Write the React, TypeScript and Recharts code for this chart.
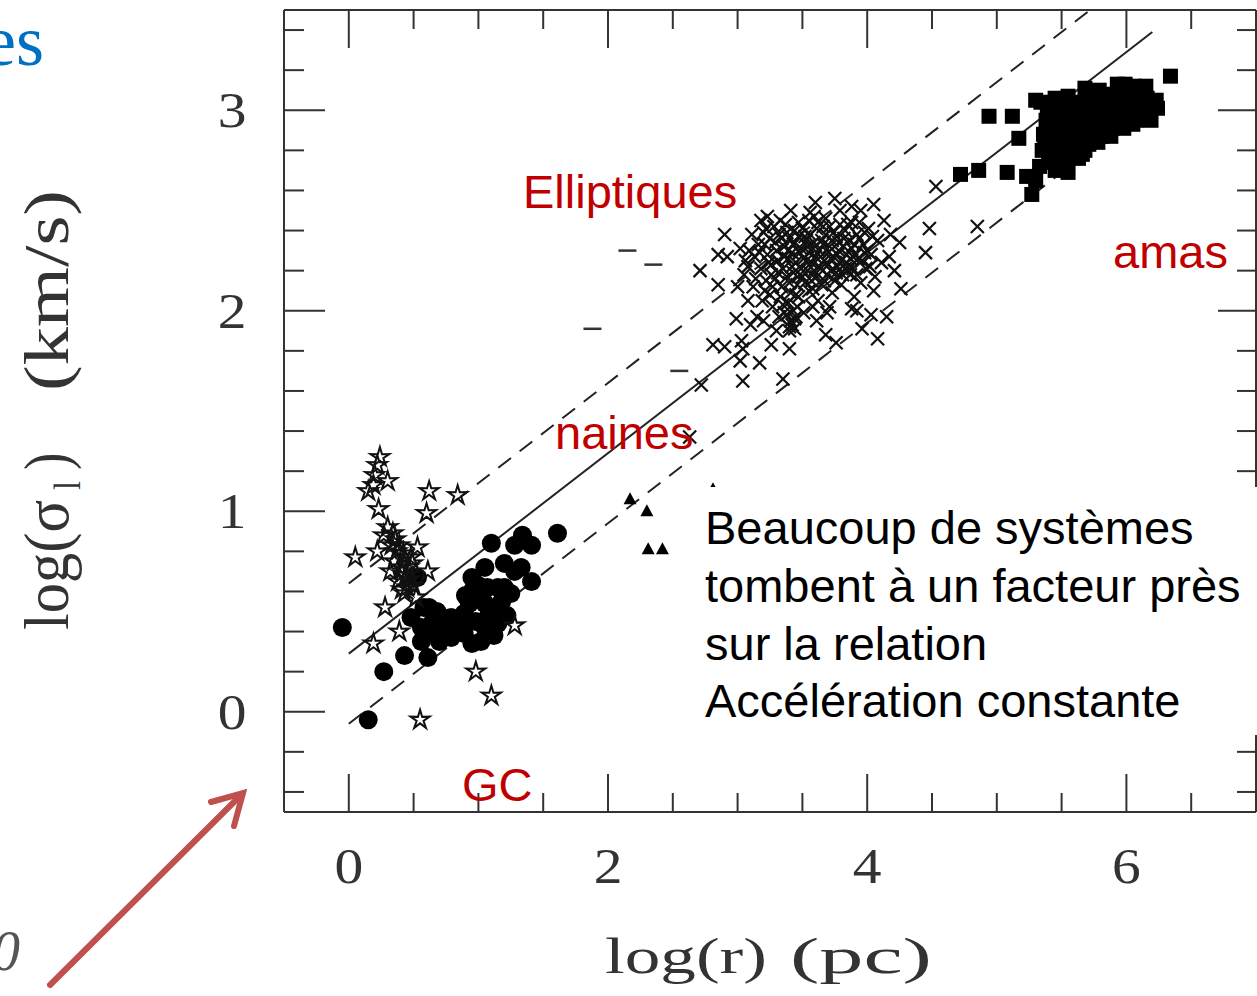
import React from 'react';
import { ScatterChart, Scatter, XAxis, YAxis } from 'recharts';

// ---------- axis ticks ----------
const xTicks = [0, 0.5, 1, 1.5, 2, 2.5, 3, 3.5, 4, 4.5, 5, 5.5, 6, 6.5];
const xLabels = [0, 2, 4, 6];
const yTicks = [-0.4, -0.2, 0, 0.2, 0.4, 0.6, 0.8, 1, 1.2, 1.4, 1.6, 1.8, 2, 2.2, 2.4, 2.6, 2.8, 3, 3.2, 3.4];
const yLabels = [0, 1, 2, 3];

// ---------- data (log r [pc], log sigma [km/s]) ----------
const globularStars: number[][] = [
  [0.24, 1.27], [0.22, 1.23], [0.19, 1.13], [0.30, 1.15], [0.15, 1.10], [0.23, 1.01], [0.62, 1.10],
  [0.60, 0.99], [0.84, 1.08], [0.30, 0.92], [0.34, 0.89], [0.22, 0.80], [0.05, 0.77], [0.39, 0.83],
  [0.53, 0.82], [0.43, 0.77], [0.32, 0.70], [0.41, 0.69], [0.49, 0.74], [0.61, 0.70], [0.45, 0.62],
  [0.43, 0.59], [0.52, 0.57], [0.28, 0.52], [0.39, 0.40], [0.19, 0.34], [1.28, 0.43], [0.98, 0.20],
  [1.10, 0.08], [0.55, -0.04], [0.36, 0.86], [0.46, 0.72], [0.38, 0.65], [0.50, 0.63], [0.42, 0.79],
  [0.35, 0.75], [0.40, 0.72], [0.44, 0.68], [0.37, 0.80], [0.47, 0.66], [0.33, 0.83], [0.41, 0.61],
  [0.48, 0.77], [0.27, 0.88], [0.20, 1.18],
];

const dwarfCircles: number[][] = [
  [-0.05, 0.42], [0.15, -0.04], [0.27, 0.20], [0.43, 0.28], [0.61, 0.27], [0.53, 0.67], [1.10, 0.84],
  [1.61, 0.89], [1.34, 0.88], [1.41, 0.83], [1.28, 0.83], [1.05, 0.72], [1.20, 0.74], [1.33, 0.72],
  [1.41, 0.65], [0.95, 0.67], [0.95, 0.60], [1.20, 0.62], [1.25, 0.59], [1.18, 0.55], [1.05, 0.54],
  [0.93, 0.54], [0.58, 0.52], [0.68, 0.50], [0.79, 0.47], [0.89, 0.49], [0.56, 0.42], [0.64, 0.40],
  [0.72, 0.39], [0.79, 0.37], [0.56, 0.35], [0.89, 0.39], [0.95, 0.34], [1.02, 0.35], [1.05, 0.42],
  [1.15, 0.44], [1.22, 0.48], [1.12, 0.50], [0.99, 0.57], [1.07, 0.62], [0.72, 0.47],
  [0.65, 0.45], [0.75, 0.43], [0.85, 0.45], [0.98, 0.45], [1.08, 0.48], [1.15, 0.62], [1.00, 0.63],
  [0.90, 0.58], [0.62, 0.52], [0.70, 0.35], [1.12, 0.38], [1.28, 0.70], [0.48, 0.47],
];

const dashMarks: number[][] = [[2.15, 2.30], [2.35, 2.23], [1.88, 1.91], [2.55, 1.70]];

const triangleMarks: number[][] = [[2.17, 1.06], [2.30, 1.00], [2.31, 0.81], [2.42, 0.81], [2.81, 1.11]];

const ellipticalCrosses: number[][] = [
  [2.90, 2.38], [2.85, 2.28], [2.92, 2.27], [2.71, 2.20], [2.85, 2.13], [2.99, 1.96], [2.81, 1.83],
  [2.90, 1.82], [3.03, 1.85], [3.04, 1.81], [3.17, 1.74], [3.26, 1.83], [3.04, 1.65], [3.35, 1.66],
  [3.40, 1.81], [3.68, 1.88], [3.76, 1.84], [4.08, 1.86], [3.96, 1.91], [4.15, 1.97], [4.03, 1.98],
  [4.26, 2.11], [4.25, 2.34], [4.45, 2.29], [4.48, 2.41], [4.85, 2.42], [4.53, 2.62], [3.88, 2.52],
  [4.05, 2.53], [3.59, 2.47], [4.17, 2.27], [3.42, 1.93], [3.71, 2.02], [3.88, 2.01], [3.61, 1.95],
  [3.02, 1.75], [2.72, 1.63], [2.63, 1.37], [3.40, 1.90], [3.44, 1.96], [3.38, 1.98],
  [3.02, 2.31], [3.08, 2.22], [3.11, 2.38], [3.14, 2.16], [3.17, 2.29], [3.19, 2.05], [3.22, 2.41],
  [3.24, 2.24], [3.27, 2.12], [3.29, 2.34], [3.31, 2.19], [3.33, 2.45], [3.35, 2.03], [3.36, 2.27],
  [3.38, 2.39], [3.40, 2.14], [3.42, 2.22], [3.43, 2.33], [3.45, 2.08], [3.47, 2.44], [3.48, 2.29],
  [3.50, 2.17], [3.52, 2.37], [3.53, 2.25], [3.55, 2.10], [3.56, 2.49], [3.58, 2.31], [3.59, 2.20],
  [3.61, 2.41], [3.62, 2.05], [3.64, 2.27], [3.65, 2.35], [3.67, 2.15], [3.68, 2.46], [3.70, 2.23],
  [3.71, 2.32], [3.73, 2.09], [3.74, 2.39], [3.76, 2.19], [3.77, 2.28], [3.79, 2.50], [3.80, 2.13],
  [3.82, 2.36], [3.84, 2.24], [3.85, 2.43], [3.87, 2.18], [3.88, 2.31], [3.90, 2.07], [3.92, 2.38],
  [3.93, 2.26], [3.95, 2.14], [3.97, 2.33], [3.99, 2.21], [4.01, 2.41], [4.03, 2.28], [4.06, 2.17],
  [4.08, 2.35], [4.11, 2.24], [3.05, 2.18], [3.13, 2.27], [3.21, 2.33], [3.26, 2.18], [3.34, 2.36],
  [3.39, 2.30], [3.44, 2.40], [3.49, 2.21], [3.54, 2.32], [3.57, 2.15], [3.63, 2.22], [3.66, 2.42],
  [3.72, 2.26], [3.78, 2.34], [3.83, 2.21], [3.89, 2.27], [3.94, 2.44], [3.98, 2.29], [3.25, 2.08],
  [3.46, 2.02], [3.51, 1.99], [3.32, 1.97], [3.58, 2.02], [3.69, 1.99], [3.15, 1.97], [3.08, 2.05],
  [3.00, 2.12], [3.10, 1.93], [3.20, 1.95], [3.30, 1.90], [3.23, 2.47], [3.41, 2.50], [3.60, 2.54],
  [3.75, 2.56], [3.95, 2.50], [4.13, 2.45], [4.18, 2.38], [4.21, 2.20], [4.05, 2.10], [3.92, 2.00],
  [3.55, 2.45], [3.18, 2.45],
  [3.16, 2.33], [3.18, 2.21], [3.20, 2.39], [3.22, 2.15], [3.23, 2.28], [3.25, 2.36], [3.26, 2.23],
  [3.28, 2.42], [3.29, 2.16], [3.30, 2.30], [3.31, 2.25], [3.32, 2.38], [3.34, 2.12], [3.35, 2.21],
  [3.36, 2.32], [3.37, 2.43], [3.38, 2.17], [3.39, 2.26], [3.40, 2.36], [3.41, 2.09], [3.42, 2.29],
  [3.43, 2.19], [3.44, 2.34], [3.45, 2.24], [3.46, 2.13], [3.47, 2.37], [3.48, 2.18], [3.49, 2.31],
  [3.50, 2.41], [3.51, 2.26], [3.52, 2.14], [3.53, 2.35], [3.54, 2.20], [3.55, 2.29], [3.56, 2.38],
  [3.57, 2.24], [3.58, 2.11], [3.59, 2.34], [3.60, 2.27], [3.61, 2.17], [3.62, 2.44], [3.63, 2.30],
  [3.64, 2.21], [3.65, 2.13], [3.66, 2.33], [3.67, 2.25], [3.68, 2.38], [3.69, 2.18], [3.70, 2.29],
  [3.71, 2.42], [3.72, 2.20], [3.73, 2.35], [3.74, 2.27], [3.75, 2.15], [3.76, 2.37], [3.77, 2.22],
  [3.78, 2.30], [3.79, 2.43], [3.80, 2.25], [3.81, 2.18], [3.82, 2.32], [3.83, 2.40], [3.84, 2.28],
  [3.85, 2.20], [3.86, 2.35], [3.87, 2.26], [3.88, 2.44], [3.89, 2.21], [3.90, 2.33], [3.91, 2.28],
  [3.92, 2.18], [3.94, 2.36], [3.96, 2.25], [3.98, 2.39], [4.00, 2.30], [4.02, 2.22], [4.04, 2.37],
  [3.36, 1.99], [3.39, 2.04], [3.41, 1.95], [3.43, 2.00], [3.45, 1.97], [3.40, 1.92], [3.44, 1.91],
  [3.47, 2.07], [3.33, 2.07], [3.27, 2.02], [3.21, 2.10], [3.12, 2.12], [3.09, 2.30], [3.06, 2.25],
];

const clusterSquares: number[][] = [
  [4.94, 2.97], [5.12, 2.97], [4.72, 2.68], [4.86, 2.70], [5.08, 2.69], [5.17, 2.86], [5.23, 2.67],
  [5.30, 2.65], [5.27, 2.58], [5.30, 3.05], [5.45, 3.06], [5.68, 3.11], [6.34, 3.17], [5.55, 2.69],
  [6.15, 3.12], [6.23, 3.05], [6.19, 2.95],
  [5.33, 2.72], [5.35, 2.80], [5.36, 2.88], [5.38, 2.95], [5.40, 2.76], [5.42, 2.84], [5.44, 2.91],
  [5.46, 2.99], [5.48, 2.73], [5.50, 2.81], [5.52, 2.87], [5.54, 2.94], [5.56, 3.01], [5.58, 2.77],
  [5.60, 2.85], [5.62, 2.90], [5.64, 2.97], [5.66, 3.03], [5.68, 2.80], [5.70, 2.88], [5.72, 2.93],
  [5.74, 3.00], [5.76, 3.06], [5.78, 2.84], [5.80, 2.91], [5.82, 2.96], [5.84, 3.03], [5.86, 3.08],
  [5.88, 2.87], [5.90, 2.94], [5.92, 2.99], [5.94, 3.05], [5.96, 3.10], [5.98, 2.91], [6.00, 2.97],
  [6.02, 3.02], [6.04, 3.08], [6.06, 3.12], [6.08, 2.95], [6.10, 3.00], [6.12, 3.05], [6.14, 3.10],
  [6.17, 2.99], [6.20, 3.04], [6.24, 3.01], [5.39, 3.01], [5.45, 2.70], [5.63, 2.76], [5.79, 3.10],
  [5.55, 3.07], [5.71, 2.83], [5.87, 2.98], [5.99, 3.13], [6.05, 2.93], [5.34, 3.04], [5.93, 3.13],
  [5.37, 2.83], [5.41, 2.92], [5.43, 2.78], [5.47, 2.86], [5.49, 2.95], [5.51, 2.76], [5.53, 2.91],
  [5.57, 2.82], [5.59, 2.98], [5.61, 2.80], [5.65, 2.86], [5.67, 2.92], [5.69, 3.07], [5.73, 2.86],
  [5.75, 2.95], [5.77, 3.02], [5.81, 2.87], [5.83, 3.00], [5.85, 2.93], [5.89, 2.91], [5.91, 3.02],
  [5.95, 2.96], [5.97, 3.03], [6.01, 3.09], [6.03, 2.99], [6.07, 3.04], [6.11, 3.09], [6.13, 2.97],
  [6.16, 3.06], [5.42, 2.74], [5.52, 2.72], [5.60, 3.04], [5.66, 2.78],
];

// relation lines (constant acceleration and factor-of-~2 band)
const solidLine: number[][] = [[0, 0.29], [6.2, 3.39]];
const upperDashed: number[][] = [[0, 0.64], [5.72, 3.5]];
const lowerDashed: number[][] = [[0, -0.06], [6.2, 3.04]];

const toPts = (a: number[][]) => a.map(([x, y]) => ({ x, y }));

// ---------- styles ----------
const INK = '#333';
const SERIF = '"Liberation Serif", "DejaVu Serif", serif';
const SANS = '"Liberation Sans", Arial, sans-serif';
const frame = { stroke: '#333', strokeWidth: 2 };

// ---------- tick renderers ----------
const BottomTick = (p: any) => {
  const { x, y, payload } = p;
  const v = payload.value;
  const major = xLabels.includes(v);
  return (
    <g>
      <line x1={x} x2={x} y1={y} y2={y - (major ? 38 : 19)} stroke="#333" strokeWidth={2} />
      {major && (
        <text transform={`translate(${x} ${y + 71}) scale(1.15 1)`} textAnchor="middle" fontFamily={SERIF} fontSize={50} fill={INK}>
          {v}
        </text>
      )}
    </g>
  );
};
const TopTick = (p: any) => {
  const { x, y, payload } = p;
  const major = xLabels.includes(payload.value);
  return <line x1={x} x2={x} y1={y} y2={y + (major ? 38 : 19)} stroke="#333" strokeWidth={2} />;
};
const LeftTick = (p: any) => {
  const { x, y, payload } = p;
  const v = payload.value;
  const major = yLabels.includes(v);
  return (
    <g>
      <line x1={x} x2={x + (major ? 41 : 20)} y1={y} y2={y} stroke="#333" strokeWidth={2} />
      {major && (
        <text transform={`translate(${x - 52} ${y + 17}) scale(1.15 1)`} textAnchor="middle" fontFamily={SERIF} fontSize={50} fill={INK}>
          {v}
        </text>
      )}
    </g>
  );
};
const RightTick = (p: any) => {
  const { x, y, payload } = p;
  const major = yLabels.includes(payload.value);
  return <line x1={x} x2={x - (major ? 38 : 19)} y1={y} y2={y} stroke="#333" strokeWidth={2} />;
};

// ---------- marker shapes ----------
const EmptyShape = () => <g />;
const CircleShape = (p: any) => <circle cx={p.cx} cy={p.cy} r={9.5} fill="#000" />;
const SquareShape = (p: any) => <rect x={p.cx - 7.5} y={p.cy - 7.5} width={15} height={15} fill="#000" />;
const TriangleShape = (p: any) => (
  <polygon points={`${p.cx},${p.cy - 7} ${p.cx - 6.5},${p.cy + 5} ${p.cx + 6.5},${p.cy + 5}`} fill="#000" />
);
const CrossShape = (p: any) => (
  <g stroke="#111" strokeWidth={2.2}>
    <line x1={p.cx - 6.5} y1={p.cy - 6.5} x2={p.cx + 6.5} y2={p.cy + 6.5} />
    <line x1={p.cx - 6.5} y1={p.cy + 6.5} x2={p.cx + 6.5} y2={p.cy - 6.5} />
  </g>
);
const DashShape = (p: any) => (
  <line x1={p.cx - 9} x2={p.cx + 9} y1={p.cy} y2={p.cy} stroke="#333" strokeWidth={2.5} />
);
const StarShape = (p: any) => {
  const pts: string[] = [];
  for (let i = 0; i < 10; i++) {
    const a = ((-90 + i * 36) * Math.PI) / 180;
    const r = i % 2 === 0 ? 10 : 3.6;
    pts.push(`${p.cx + r * Math.cos(a)},${p.cy + r * Math.sin(a)}`);
  }
  return <polygon points={pts.join(' ')} fill="none" stroke="#111" strokeWidth={2} />;
};

export default function App() {
  return (
    <div style={{ position: 'absolute', left: 0, top: 0, width: 1257, height: 996, background: '#fff' }}>
      <ScatterChart width={1257} height={996} margin={{ top: 0, right: 0, bottom: 154, left: 224 }}>
        <XAxis xAxisId="b" type="number" dataKey="x" domain={[-0.5, 7]} allowDataOverflow ticks={xTicks} interval={0}
          height={30} orientation="bottom" tickSize={0} tickMargin={0} tickLine={false} axisLine={frame} tick={BottomTick} />
        <XAxis xAxisId="t" type="number" dataKey="x" domain={[-0.5, 7]} allowDataOverflow ticks={xTicks} interval={0}
          height={10} orientation="top" tickSize={0} tickMargin={0} tickLine={false} axisLine={frame} tick={TopTick} />
        <YAxis yAxisId="l" type="number" dataKey="y" domain={[-0.5, 3.5]} allowDataOverflow ticks={yTicks} interval={0}
          width={60} orientation="left" tickSize={0} tickMargin={0} tickLine={false} axisLine={frame} tick={LeftTick} />
        <YAxis yAxisId="r" type="number" dataKey="y" domain={[-0.5, 3.5]} allowDataOverflow ticks={yTicks} interval={0}
          width={1} orientation="right" tickSize={0} tickMargin={0} tickLine={false} axisLine={frame} tick={RightTick} />

        <Scatter xAxisId="b" yAxisId="l" data={toPts(solidLine)} line={{ stroke: '#222', strokeWidth: 2 }} shape={EmptyShape} isAnimationActive={false} />
        <Scatter xAxisId="b" yAxisId="l" data={toPts(upperDashed)} line={{ stroke: '#222', strokeWidth: 2, strokeDasharray: '16 11' }} shape={EmptyShape} isAnimationActive={false} />
        <Scatter xAxisId="b" yAxisId="l" data={toPts(lowerDashed)} line={{ stroke: '#222', strokeWidth: 2, strokeDasharray: '16 11' }} shape={EmptyShape} isAnimationActive={false} />

        <Scatter xAxisId="b" yAxisId="l" data={toPts(ellipticalCrosses)} shape={CrossShape} isAnimationActive={false} />
        <Scatter xAxisId="b" yAxisId="l" data={toPts(clusterSquares)} shape={SquareShape} isAnimationActive={false} />
        <Scatter xAxisId="b" yAxisId="l" data={toPts(dwarfCircles)} shape={CircleShape} isAnimationActive={false} />
        <Scatter xAxisId="b" yAxisId="l" data={toPts(globularStars)} shape={StarShape} isAnimationActive={false} />
        <Scatter xAxisId="b" yAxisId="l" data={toPts(dashMarks)} shape={DashShape} isAnimationActive={false} />
        <Scatter xAxisId="b" yAxisId="l" data={toPts(triangleMarks)} shape={TriangleShape} isAnimationActive={false} />
      </ScatterChart>

      <svg width={1257} height={996} style={{ position: 'absolute', left: 0, top: 0, pointerEvents: 'none' }}>
        {/* axis titles */}
        <text x={605} y={973} fontFamily={SERIF} fontSize={50} fill={INK} textLength={162} lengthAdjust="spacingAndGlyphs">log(r)</text>
        <text x={790} y={973} fontFamily={SERIF} fontSize={50} fill={INK} textLength={142} lengthAdjust="spacingAndGlyphs">(pc)</text>
        <g transform="translate(68 630) rotate(-90) scale(1 1.2)" fontFamily={SERIF} fill={INK}>
          <text x={0} y={0} fontSize={52} textLength={130} lengthAdjust="spacingAndGlyphs">log(σ</text>
          <text x={140} y={10} fontSize={32}>l</text>
          <text x={160} y={0} fontSize={52}>)</text>
          <text x={239} y={0} fontSize={52} textLength={201} lengthAdjust="spacingAndGlyphs">(km/s)</text>
        </g>

        {/* slide fragments */}
        <text x={-16} y={65} fontFamily={SERIF} fontSize={72} fill="#0070C0">es</text>
        <text x={-8} y={970} fontFamily={SERIF} fontSize={56} fontStyle="italic" fill="#555">0</text>
        <g stroke="#C0504D" strokeWidth={6} strokeLinecap="round" fill="none">
          <line x1={50} y1={985} x2={241} y2={795} />
          <polyline points="211,802 243,793 234,826" strokeLinejoin="miter" />
        </g>

        {/* category labels */}
        <g fontFamily={SANS} fontSize={47} fill="#C00000">
          <text x={523} y={208}>Elliptiques</text>
          <text x={1113} y={268}>amas</text>
          <text x={555} y={449}>naines</text>
          <text x={462} y={801}>GC</text>
        </g>

        {/* annotation box */}
        <rect x={698} y={487} width={560} height={248} fill="#fff" />
        <g fontFamily={SANS} fontSize={47} fill="#000">
          <text x={705} y={544}>Beaucoup de systèmes</text>
          <text x={705} y={602}>tombent à un facteur près</text>
          <text x={705} y={660}>sur la relation</text>
          <text x={705} y={717}>Accélération constante</text>
        </g>
      </svg>
    </div>
  );
}
